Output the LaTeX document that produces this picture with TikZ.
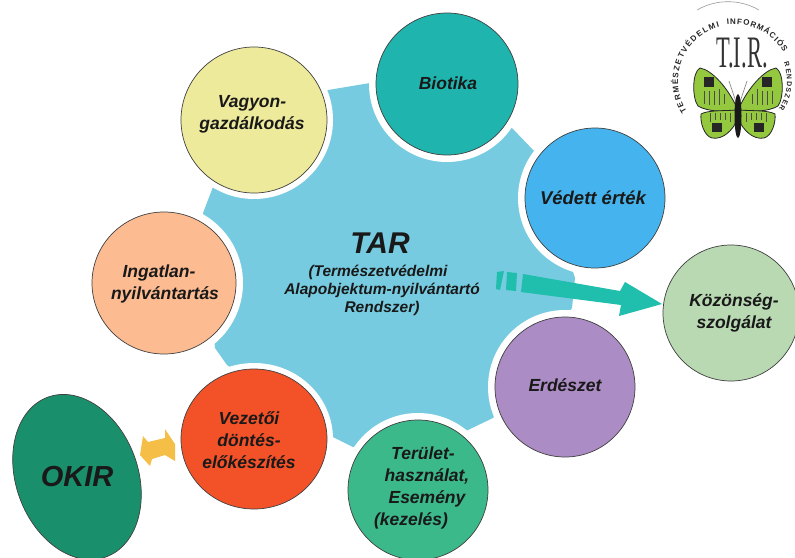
\documentclass[tikz,border=0pt]{standalone}
\usepackage{fontspec}
\setmainfont{Liberation Sans}
\usetikzlibrary{decorations.text,shapes.geometric}
\newfontfamily\serifrm{Liberation Serif}
\definecolor{tarblue}{HTML}{76CBE0}
\definecolor{wingg}{HTML}{93C83F}
\definecolor{cbiotika}{HTML}{1FB5AE}
\definecolor{cvedett}{HTML}{45B4EE}
\definecolor{ckozon}{HTML}{B9D9B2}
\definecolor{cerdesz}{HTML}{AC8CC4}
\definecolor{cterulet}{HTML}{3CB98A}
\definecolor{cingatlan}{HTML}{FDBB92}
\definecolor{cvagyon}{HTML}{EEEA9C}
\definecolor{cvezet}{HTML}{F35228}
\definecolor{cokir}{HTML}{1A8F6C}
\definecolor{cteal}{HTML}{20BEAC}
\definecolor{cyellow}{HTML}{F5BE46}
\tikzset{
  disc/.style={ellipse,draw=black!75,line width=0.7pt,inner sep=0pt},
  lbl/.style={align=center,inner sep=0pt,text=black!90,font=\fontsize{17.5}{22}\selectfont\bfseries\itshape},
  halo/.style={fill=white,draw=none},
  wing/.style={fill=wingg,draw=black!85,line width=.8pt},
  chip/.style={fill=black!85,draw=none},
  trace/.style={black!70,line width=.6pt},
  ringtext/.style={decorate,decoration={text along path,text={|\fontsize{#1}{9}\selectfont\bfseries\color{black!85}|\ringstr},text align=fit to path}},
}
\begin{document}
\begin{tikzpicture}[x=1pt,y=-1pt]
\useasboundingbox (0,0) rectangle (795,557);
\fill[white] (0,0) rectangle (795,557);
% star
\fill[tarblue] (328,90) -- (370,83) -- (512,128) -- (535,152) -- (575,278) -- (572,308) -- (493,418) -- (468,430) -- (353,447) -- (333,437) -- (227,365) -- (215,348) -- (203,213) -- (213,187) -- cycle;
% halos
\foreach \x/\y/\r in {447/84/78,595/198/77,565/387/77,418/490/77,164/283/79,254/120/79}
  \fill[halo] (\x,\y) circle[radius=\r];
\fill[halo] (254,439) ellipse[x radius=79,y radius=76];
% discs
\node[disc,minimum width=142pt,minimum height=142pt,fill=cbiotika] (biotika) at (447,84) {};
\node[disc,minimum width=140pt,minimum height=140pt,fill=cvedett] (vedett) at (595,198) {};
\node[disc,minimum width=136pt,minimum height=136pt,fill=ckozon] (kozonseg) at (731,313) {};
\node[disc,minimum width=140pt,minimum height=140pt,fill=cerdesz] (erdeszet) at (565,387) {};
\node[disc,minimum width=140pt,minimum height=140pt,fill=cterulet] (terulet) at (418,490) {};
\node[disc,minimum width=144pt,minimum height=142pt,fill=cingatlan] (ingatlan) at (164,283) {};
\node[disc,minimum width=146pt,minimum height=146pt,fill=cvagyon] (vagyon) at (254,120) {};
\node[disc,minimum width=146pt,minimum height=140pt,fill=cvezet] (vezetoi) at (254,439) {};
\node[disc,minimum width=122pt,minimum height=170pt,rotate=20,fill=cokir] (okir) at (77,477) {};
% labels
\node[lbl] (tbiotika) at (448,83) {Biotika};
\node[lbl,font=\fontsize{18.5}{22}\selectfont\bfseries\itshape] (tvedett) at (593,198) {Védett érték};
\node[lbl] (tkozon) at (734,313) {Közönség-\\szolgálat};
\node[lbl] (terdesz) at (565,385) {Erdészet};
\node[lbl] (tterulet) at (427,488) {Terület-\hspace*{8pt}\\használat,\\Esemény\\(kezelés)\hspace*{32pt}};
\node[lbl] (tingatlan) at (165,284) {Ingatlan-\hspace*{12pt}\\nyilvántartás};
\node[lbl] (tvagyon) at (252,114) {Vagyon-\\gazdálkodás};
\node[lbl] (tvezet) at (249,440) {Vezetői\\döntés-\\előkészítés};
\node[lbl,font=\fontsize{29}{32}\selectfont\bfseries\itshape] (tokir) at (77,477) {OKIR};
\node[lbl,font=\fontsize{30}{32}\selectfont\bfseries\itshape] (tar) at (380,243) {TAR};
\node[lbl,font=\fontsize{15.5}{18}\selectfont\bfseries\itshape] (tarsub) at (382,290) {(Természetvédelmi\hspace*{8pt}\\Alapobjektum-nyilvántartó\\Rendszer)};
% teal arrow
\fill[cteal] (497,272) -- (504,271) -- (500,290) -- (496,289) -- cycle;
\fill[cteal] (507,272) -- (517,273) -- (516,291) -- (506,290) -- cycle;
\fill[cteal] (523,274) -- (620,291) -- (625,282) -- (662,304) -- (619,316) -- (621,305) -- (521,292) -- cycle;
% yellow double arrow
\fill[cyellow] (140,455) -- (143,436) -- (148,442) -- (165,438) -- (165,429) -- (175,444) -- (175,461) -- (165,455) -- (152,459) -- (150,466) -- cycle;
% logo
\coordinate (logoc) at (734,81);
\draw[black!40,line width=.6pt] (697,10) arc[start angle=-120,end angle=-60,radius=62];
\def\ringstr{TERMÉSZETVÉDELMI}
\path[ringtext=8] (logoc) ++(-213:56) arc[start angle=-213,end angle=-105,radius=56];
\def\ringstr{INFORMÁCIÓS}
\path[ringtext=8] (logoc) ++(-97:57) arc[start angle=-97,end angle=-30,radius=57];
\def\ringstr{RENDSZER}
\path[ringtext=7] (logoc) ++(-20:53) arc[start angle=-20,end angle=32,radius=53];
\node[inner sep=0pt,text=black!80] (tir) at (742,53) {\scalebox{.5}[1]{\fontsize{45}{45}\selectfont\serifrm T.I.R.}};
\begin{scope}[shift={(738,108)}]
 \foreach \s in {1,-1}{
  \begin{scope}[xscale=\s]
   \fill[wingg,draw=black!85,line width=.8pt] (1,0) .. controls (10,-20) and (26,-38) .. (38,-40) .. controls (46,-36) and (46,-10) .. (40,-2) .. controls (30,4) and (12,4) .. (1,2) -- cycle;
   \fill[wingg,draw=black!85,line width=.8pt] (1,2) .. controls (14,3) and (30,2) .. (37,6) .. controls (38,14) and (34,28) .. (26,30) .. controls (15,32) and (5,22) .. (1,12) -- cycle;
   \fill[chip] (24,-31) rectangle (34,-21);
   \fill[chip] (16,15) rectangle (26,24);
   \draw[trace] (14,-14) -- (14,-4) (19,-19) -- (19,-3) (24,-17) -- (24,-3) (29,-17) -- (29,-3) (34,-17) -- (34,-4);
   \draw[trace] (8,5) -- (8,14) (13,5) -- (13,12) (18,5) -- (18,12) (23,5) -- (23,12) (28,5) -- (28,14);
   \draw[black!45,line width=.7pt] (2,-6) -- (9,-27);
  \end{scope}}
 \fill[black!90] (0,8) ellipse[x radius=3.5,y radius=22];
\end{scope}
\end{tikzpicture}
\end{document}
